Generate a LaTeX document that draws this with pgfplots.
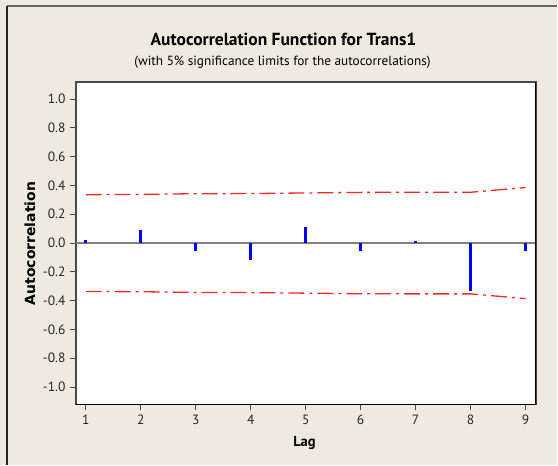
\documentclass[border=0pt]{standalone}
\usepackage{pgfplots}
\pgfplotsset{compat=1.18}
\usepackage{fontspec}
\setmainfont{PT Sans}
\newfontfamily\dejavu{DejaVu Sans}
\definecolor{panel}{HTML}{EEEADF}
\definecolor{frame}{HTML}{4A4A4A}
\definecolor{limred}{HTML}{F02828}
\definecolor{barblue}{HTML}{0000FF}
\definecolor{zeroline}{HTML}{808080}

\begin{document}
\begin{tikzpicture}[x=1pt,y=1pt]
\fill[panel] (0,0) rectangle (558,466);
\draw[black!60, line width=2pt] (7,460) -- (558,460);
\draw[black!85, line width=1.5pt] (7,460) -- (7,0);
\begin{axis}[
  at={(76pt,61pt)}, anchor=south west,
  scale only axis, width=461pt, height=323pt,
  xmin=0.82, xmax=9.19, ymin=-1.12, ymax=1.12,
  xtick={1,2,3,4,5,6,7,8,9},
  ytick={-1,-0.8,-0.6,-0.4,-0.2,0,0.2,0.4,0.6,0.8,1},
  yticklabels={-1.0,-0.8,-0.6,-0.4,-0.2,0.0,0.2,0.4,0.6,0.8,1.0},
  tick pos=left, tick align=outside, major tick length=6pt,
  tick style={frame, line width=1pt},
  axis line style={frame, line width=1.4pt},
  axis background/.style={fill=white},
  tick label style={font=\fontsize{13.5}{13.5}\selectfont, text=black!85},
  /pgf/number format/assume math mode=true,
  xticklabel style={yshift=-1pt},
  yticklabel style={xshift=-1pt},
]
% zero reference line
\draw[zeroline, line width=1.5pt] (axis cs:0.82,0) -- (axis cs:9.19,0);

% 5% significance limits
\addplot[limred, line width=1.3pt, dash pattern=on 16pt off 5pt on 3pt off 5pt] coordinates {
  (1,0.336)(2,0.338)(3,0.343)(4,0.344)(5,0.348)(6,0.352)(7,0.353)(8,0.353)(9,0.386)};
\addplot[limred, line width=1.3pt, dash pattern=on 16pt off 5pt on 3pt off 5pt] coordinates {
  (1,-0.336)(2,-0.338)(3,-0.343)(4,-0.344)(5,-0.348)(6,-0.352)(7,-0.353)(8,-0.353)(9,-0.386)};

% autocorrelations
\addplot[barblue, line width=3pt, ycomb] coordinates {
  (1,0.020)(2,0.088)(3,-0.056)(4,-0.120)(5,0.113)(6,-0.056)(7,0.012)(8,-0.333)(9,-0.056)};

\draw[black, line width=1.4pt] (rel axis cs:0,0) -- (rel axis cs:1,0) -- (rel axis cs:1,1);
\end{axis}
\node[font=\bfseries\fontsize{17.5}{17.5}\selectfont, anchor=base, inner sep=0pt] at (284,420) {Autocorrelation Function for Trans1};
\node[font=\fontsize{13.3}{13.3}\selectfont, anchor=base, inner sep=0pt] at (283,400.5) {(with 5\% significance limits for the autocorrelations)};
\node[font=\dejavu\bfseries\fontsize{14}{14}\selectfont, rotate=90, anchor=center] at (30,222) {Autocorrelation};
\node[font=\bfseries\fontsize{14.5}{14.5}\selectfont, anchor=base] at (305,19) {Lag};
\end{tikzpicture}
\end{document}
